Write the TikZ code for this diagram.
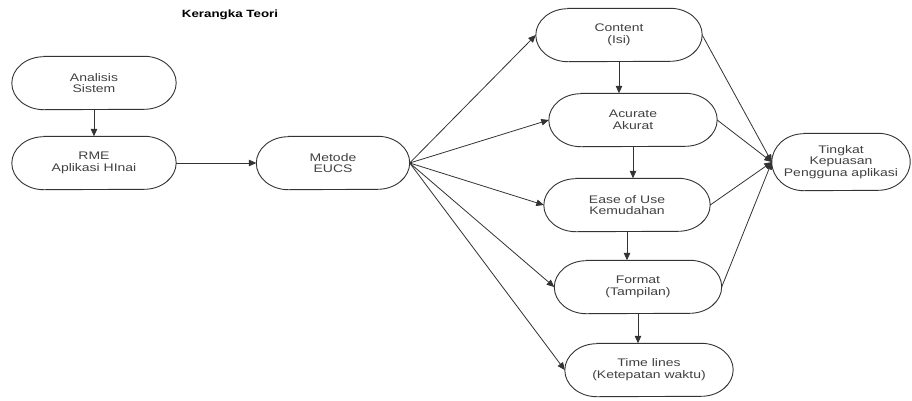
\documentclass[tikz,border=0pt]{standalone}
\usepackage{fontspec}
\setmainfont[FakeStretch=1.27]{Liberation Sans}
\usetikzlibrary{arrows.meta}
\definecolor{ln}{HTML}{333333}
\definecolor{tx}{HTML}{404040}
\tikzset{
  pill/.style={rectangle, align=center, inner sep=0pt,
    text=tx, font=\fontsize{11}{11.8}\selectfont, minimum height=53pt},
  pl/.style={draw=ln, line width=0.9pt},
  arr/.style={draw=ln, line width=0.8pt, -{Triangle[length=7.5pt,width=6.5pt]}}
}
\newcommand\drawpill[2]{%
  \draw[pl] ([xshift=32pt]#1.north west) -- ([xshift=-32pt]#1.north east)
    arc[start angle=90,end angle=-90,x radius=32pt,y radius=#2]
    -- ([xshift=32pt]#1.south west)
    arc[start angle=270,end angle=90,x radius=32pt,y radius=#2] -- cycle;}
\begin{document}
\begin{tikzpicture}[x=1pt,y=-1pt]
\useasboundingbox (0,0) rectangle (912,400);
\node[font=\bfseries\fontsize{10.5}{12}\selectfont, text=black] (title) at (230,15) {Kerangka Teori};
\node[pill, minimum width=164pt] (ana) at (94,83) {Analisis\\Sistem};
\node[pill, minimum width=164pt] (rme) at (94,163) {RME\\Aplikasi HInai};
\node[pill, minimum width=153pt] (met) at (333,163) {Metode\\EUCS};
\node[pill, minimum width=166pt] (con) at (619,35) {Content\\(Isi)};
\node[pill, minimum width=168pt] (acu) at (633,120) {Acurate\\Akurat};
\node[pill, minimum width=166pt] (eas) at (627,205) {Ease of Use\\Kemudahan};
\node[pill, minimum width=167pt] (for) at (638,287) {Format\\(Tampilan)};
\node[pill, minimum width=138pt, minimum height=57pt] (tin) at (841,162) {Tingkat\\Kepuasan\\Pengguna aplikasi};
\node[pill, minimum width=168pt] (tim) at (649,370) {Time lines\\(Ketepatan waktu)};
\drawpill{ana}{26.5pt}
\drawpill{rme}{26.5pt}
\drawpill{met}{26.5pt}
\drawpill{con}{26.5pt}
\drawpill{acu}{26.5pt}
\drawpill{eas}{26.5pt}
\drawpill{for}{26.5pt}
\drawpill{tim}{26.5pt}
\drawpill{tin}{28.5pt}
% left chain
\draw[arr] (ana.south) -- (rme.north);
\draw[arr] (rme.east) -- (met.west);
% fan out
\draw[arr] (met.east) -- (con.west);
\draw[arr] (met.east) -- (acu.west);
\draw[arr] (met.east) -- (eas.west);
\draw[arr] (met.east) -- (for.west);
\draw[arr] (met.east) -- (tim.west);
% vertical chain
\draw[arr] (con.south) -- (con.south |- acu.north);
\draw[arr] (acu.south) -- (acu.south |- eas.north);
\draw[arr] (eas.south) -- (eas.south |- for.north);
\draw[arr] (for.south) -- (for.south |- tim.north);
% to tingkat
\draw[arr] (con.east) -- (tin.west);
\draw[arr] (acu.east) -- (tin.west);
\draw[arr] (eas.east) -- (tin.west);
\draw[arr] (for.east) -- (tin.west);
\end{tikzpicture}
\end{document}
